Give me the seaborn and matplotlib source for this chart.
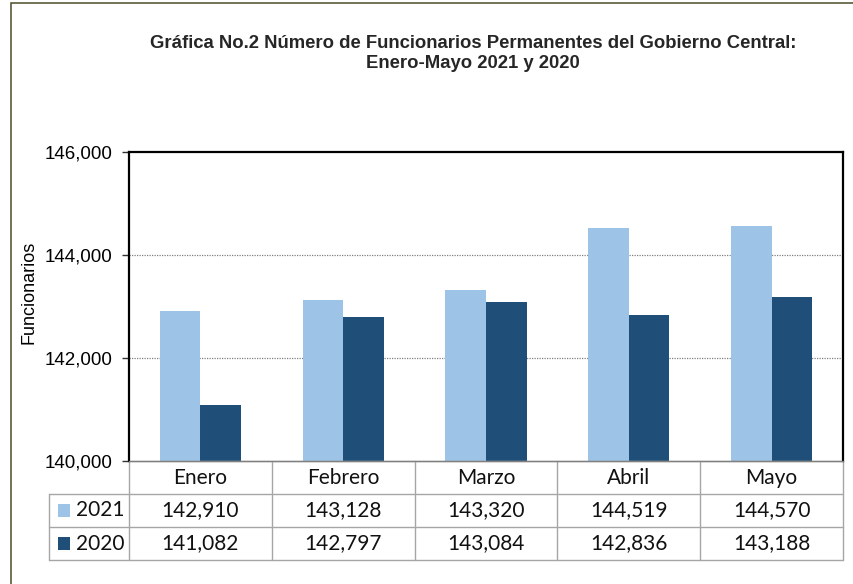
import pandas as pd
import seaborn as sns
import matplotlib.pyplot as plt
from matplotlib.patches import Rectangle
from matplotlib.ticker import FuncFormatter
import matplotlib.transforms as mtransforms

# Data
months = ["Enero", "Febrero", "Marzo", "Abril", "Mayo"]
values_2021 = [142910, 143128, 143320, 144519, 144570]
values_2020 = [141082, 142797, 143084, 142836, 143188]
years = ["2021", "2020"]
colors = ["#9DC3E6", "#1F4E79"]

df = pd.DataFrame({
    "mes": months * 2,
    "anio": [years[0]] * len(months) + [years[1]] * len(months),
    "valor": values_2021 + values_2020,
})

sns.set_theme(style="white")
plt.rcParams["font.family"] = ["Liberation Sans", "DejaVu Sans"]

fig = plt.figure(figsize=(8.54, 5.84), dpi=100)
ax = fig.add_axes([129 / 854, 1 - 461 / 584, 714 / 854, 309 / 584])

sns.barplot(
    data=df, x="mes", y="valor", hue="anio",
    palette=colors, width=0.57, ax=ax, legend=False,
    linewidth=0, saturation=1,
)

ax.set_ylim(140000, 146000)
ax.set_xlim(-0.5, len(months) - 0.5)
ax.set_yticks([140000, 142000, 144000, 146000])
ax.yaxis.set_major_formatter(FuncFormatter(lambda v, p: f"{int(v):,}"))
ax.tick_params(axis="y", labelsize=13.5, length=5, width=1, color="#333333",
               labelcolor="black", left=True, pad=7)
ax.set_xticks([])
ax.set_xlabel("")
ax.set_ylabel("Funcionarios", fontsize=13, color="black")
ax.yaxis.set_label_coords(-0.1275, 0.547)
for y in [142000, 144000]:
    ax.axhline(y, color="#808080", linestyle=(0, (1, 1)), linewidth=0.9, zorder=0)

for side in ["left", "top", "right"]:
    ax.spines[side].set_color("black")
    ax.spines[side].set_linewidth(1.6)
ax.spines["bottom"].set_color("#808080")
ax.spines["bottom"].set_linewidth(1)

# Data table below the plot
trans = mtransforms.blended_transform_factory(ax.transData, ax.transAxes)
row_h = 33 / 309
label_left = -0.5 - 80 / 143
line_kw = dict(color="#A6A6A6", linewidth=1, transform=trans, clip_on=False)
tfont = ["Lato", "DejaVu Sans"]
tsize = 15

# horizontal lines
ax.plot([-0.5, 4.5], [0, 0], **line_kw)
for r in range(1, 4):
    ax.plot([label_left, 4.5], [-r * row_h] * 2, **line_kw)
# vertical lines
for i in range(len(months) + 1):
    ax.plot([i - 0.5] * 2, [0, -3 * row_h], **line_kw)
ax.plot([label_left] * 2, [-row_h, -3 * row_h], **line_kw)

for i, m in enumerate(months):
    ax.text(i, -0.5 * row_h, m, ha="center", va="center", fontsize=tsize,
            family=tfont, transform=trans, color="#111111")
    ax.text(i, -1.5 * row_h, f"{values_2021[i]:,}", ha="center", va="center",
            fontsize=tsize, family=tfont, transform=trans, color="#111111")
    ax.text(i, -2.5 * row_h, f"{values_2020[i]:,}", ha="center", va="center",
            fontsize=tsize, family=tfont, transform=trans, color="#111111")

for r, (yr, c) in enumerate(zip(years, colors)):
    yc = -(1.5 + r) * row_h
    ax.add_patch(Rectangle((label_left + 9 / 143, yc - 6.5 / 309), 12 / 143, 13 / 309,
                           facecolor=c, edgecolor="none", transform=trans,
                           clip_on=False))
    ax.text(label_left + 27 / 143, yc, yr, ha="left", va="center", fontsize=tsize,
            family=tfont, transform=trans, color="#111111")

# Title
fig.text(473 / 854, 1 - 43 / 584,
         "Gráfica No.2 Número de Funcionarios Permanentes del Gobierno Central:",
         ha="center", va="center", fontsize=13.3, fontweight="bold")
fig.text(473 / 854, 1 - 64 / 584, "Enero-Mayo 2021 y 2020",
         ha="center", va="center", fontsize=13.3, fontweight="bold")

# Outer border
fig.patches.append(Rectangle((11 / 854, -0.01), 1.0, 1 - 3 / 584 + 0.01,
                             transform=fig.transFigure, facecolor="none",
                             edgecolor="#5a5a3c", linewidth=1.2))

plt.savefig("out.png", dpi=100)
